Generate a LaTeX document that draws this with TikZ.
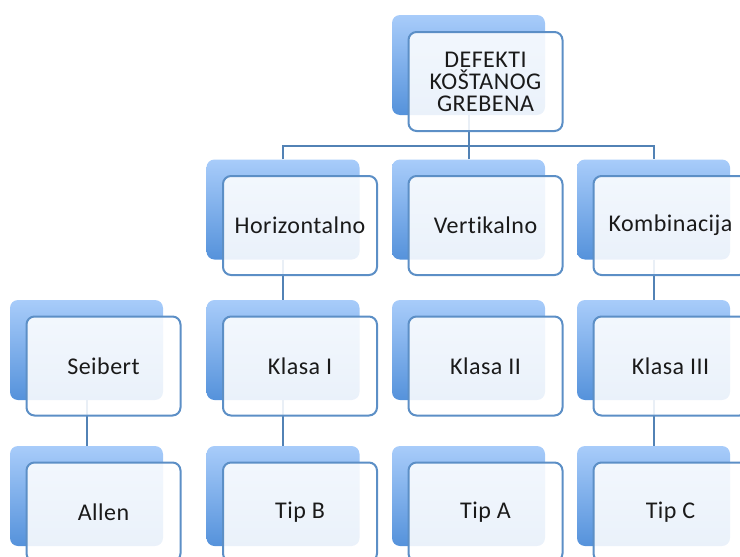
\documentclass[tikz,border=0pt]{standalone}
\usepackage{fontspec}
\setmainfont{Carlito}[Ligatures=NoCommon, LetterSpace=2]
\definecolor{backtop}{HTML}{A8CCFA}
\definecolor{backbot}{HTML}{5592DB}
\definecolor{frame}{HTML}{5C8FC6}
\definecolor{linec}{HTML}{5282B5}
\definecolor{txt}{HTML}{1A1A1A}
\tikzset{
  backbox/.style={rectangle, rounded corners=8pt, minimum width=153pt, minimum height=100pt,
    top color=backtop, bottom color=backbot, draw=none, inner sep=0pt},
  frontbox/.style={rectangle, rounded corners=8pt, minimum width=154pt, minimum height=99pt,
    draw=frame, line width=2pt, fill=white, fill opacity=0.88, text opacity=1, text=txt,
    align=center, inner sep=2pt, font=\fontsize{24}{22}\selectfont},
  conn/.style={draw=linec, line width=2pt}
}
\begin{document}
\begin{tikzpicture}[x=1pt,y=-1pt]
\useasboundingbox (0,0) rectangle (740,557);
\begin{scope}
\clip (0,0) rectangle (740,557);
% back boxes
\node[backbox] (bT) at (468.5,65) {};
\node[backbox] (bH) at (283,209.5) {};
\node[backbox] (bV) at (468.5,209.5) {};
\node[backbox] (bK) at (653.5,209.5) {};
\node[backbox] (bS) at (86.5,350) {};
\node[backbox] (b1) at (283,350) {};
\node[backbox] (b2) at (468.5,350) {};
\node[backbox] (b3) at (653.5,350) {};
\node[backbox] (bA) at (86.5,496) {};
\node[backbox] (bB) at (283,496) {};
\node[backbox] (bTA) at (468.5,496) {};
\node[backbox] (bC) at (653.5,496) {};
% connectors
\coordinate (bus) at (468.5,146);
\draw[conn] (bT.south) -- (bus);
\draw[conn] (bH.north) -- (bH.north |- bus) -- (bK.north |- bus) -- (bK.north);
\draw[conn] (bV.north) -- (bV.north |- bus);
\draw[conn] (bH.south) -- (b1.north);
\draw[conn] (bK.south) -- (b3.north);
\draw[conn] (b1.south) -- (bB.north);
\draw[conn] (b3.south) -- (bC.north);
\draw[conn] (bS.south) -- (bA.north);
% front boxes
\node[frontbox] (fT) at (485.5,81.5) {DEFEKTI\\KOŠTANOG\\GREBENA};
\node[frontbox] (fH) at (300,225.5) {Horizontalno};
\node[frontbox] (fV) at (485.5,225.5) {Vertikalno};
\node[frontbox] (fK) at (670.5,225.5) {Kombinacija};
\node[frontbox] (fS) at (103.5,366) {Seibert};
\node[frontbox] (f1) at (300,366) {Klasa I};
\node[frontbox] (f2) at (485.5,366) {Klasa II};
\node[frontbox] (f3) at (670.5,366) {Klasa III};
\node[frontbox] (fA) at (103.5,512) {Allen};
\node[frontbox] (fB) at (300,512) {Tip B};
\node[frontbox] (fTA) at (485.5,512) {Tip A};
\node[frontbox] (fC) at (670.5,512) {Tip C};
\end{scope}
\end{tikzpicture}
\end{document}
